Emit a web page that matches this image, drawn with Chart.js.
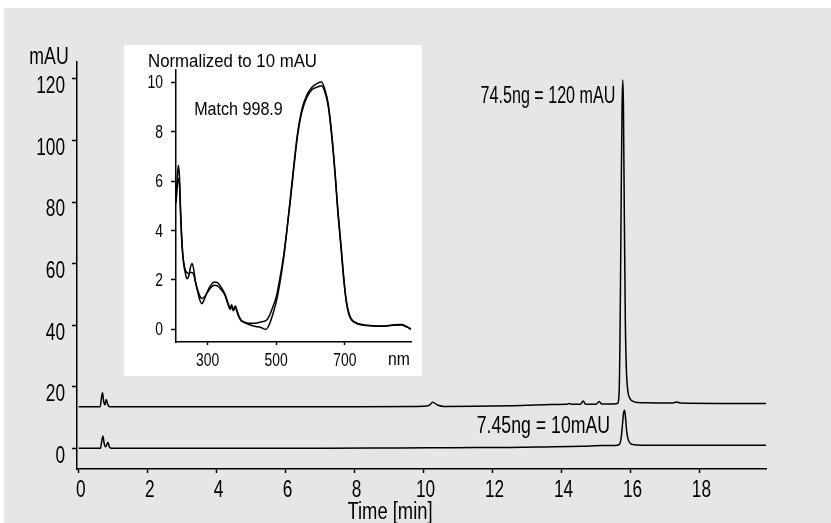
<!DOCTYPE html>
<html>
<head>
<meta charset="utf-8">
<script src="https://cdn.jsdelivr.net/npm/chart.js@4.4.1/dist/chart.umd.min.js"></script>
<style>
  html, body { margin: 0; padding: 0; background: #fff; }
  #frame { position: absolute; left: 4px; top: 8px; width: 827px; height: 515px; background: #e6e6e6; }
  #main { position: absolute; left: 0; top: 0; }
  #insetBox { position: absolute; left: 124px; top: 45px; width: 298px; height: 331px; background: #fff; }
</style>
</head>
<body>
<div id="frame"></div>
<div id="main"><canvas id="mainChart" width="831" height="523"></canvas></div>
<div id="insetBox"><canvas id="insetChart" width="298" height="331"></canvas></div>
<script>
// chromatogram, upper trace (74.5 ng)
var timeTop = [0, 0.62, 0.66, 0.69, 0.72, 0.76, 0.80, 0.84, 0.88, 0.93, 2.5, 4.8, 6.5, 8.0, 9.8,
    10.15, 10.27, 10.4, 10.6, 11.5, 12.6, 13.0, 13.7, 14.15, 14.22, 14.3, 14.55, 14.63, 14.7,
    15.0, 15.09, 15.17, 15.45, 15.62, 15.67, 15.70, 15.73, 15.755, 15.775, 15.795, 15.82, 15.85,
    15.88, 15.92, 15.97, 16.05, 16.2, 16.5, 17.2, 17.35, 17.45, 18.5, 19.93];
var signalTop = [13.5, 13.5, 16.5, 18.1, 15.5, 14.1, 15.9, 14.3, 13.6, 13.5, 13.5, 13.5, 13.55, 13.55, 13.6,
    13.9, 14.95, 14.1, 13.6, 13.65, 13.85, 14.0, 14.25, 14.3, 14.6, 14.3, 14.3, 15.4, 14.35,
    14.35, 15.2, 14.4, 14.4, 14.6, 18, 40, 80, 110, 119.7, 112, 78, 42,
    26, 19, 16.5, 15.4, 14.9, 14.8, 14.7, 15.1, 14.7, 14.6, 14.6];

// chromatogram, lower trace (7.45 ng)
var timeBottom = [0, 0.63, 0.67, 0.70, 0.74, 0.78, 0.82, 0.85, 0.89, 0.95, 2.3, 4.5, 6.5, 8.5, 10.1,
    11.5, 12.5, 13.5, 14.6, 15.2, 15.55, 15.68, 15.73, 15.77, 15.80, 15.83, 15.86, 15.89, 15.93, 15.98,
    16.05, 16.2, 16.75, 18.5, 19.93];
var signalBottom = [0, 0, 2.5, 4.0, 1.5, 0.5, 1.4, 2.0, 0.4, 0.05, 0, 0, 0.05, 0.1, 0.2,
    0.25, 0.3, 0.45, 0.65, 0.9, 0.95, 1.3, 3.5, 8, 11.5, 12.4, 9.5, 5.5, 3, 1.8,
    1.3, 1.1, 1.0, 1.0, 1.0];

var timeTicks = [0, 2, 4, 6, 8, 10, 12, 14, 16, 18];
var mauTicks = [0, 20, 40, 60, 80, 100, 120];

// inset: UV/Vis spectra normalized to 10 mAU
var wavelength = [208, 212, 215, 218, 222, 226, 230, 235, 240, 245, 250, 255, 260, 265, 270, 276, 283, 290,
    300, 310, 320, 330, 340, 350, 360, 366, 370, 375, 381, 386, 391, 398, 406, 420, 440, 455, 470,
    480, 490, 500, 510, 522, 532, 542, 552, 562, 575, 590, 605, 620, 632, 642, 652, 662, 672, 680,
    689, 697, 704, 712, 720, 735, 750, 780, 810, 840, 865, 880, 893];
var spectrumA = [5.3, 6.2, 6.64, 6.2, 4.6, 3.4, 2.7, 2.3, 2.05, 2.15, 2.5, 2.66, 2.4, 1.9, 1.6, 1.25, 1.04, 1.2,
    1.55, 1.8, 1.92, 1.88, 1.7, 1.45, 1.05, 0.85, 1.0, 0.8, 0.95, 0.75, 0.55, 0.38, 0.28, 0.2, 0.12, 0.08, 0.0,
    0.2, 0.6, 1.1, 1.8, 2.9, 4.1, 5.4, 6.7, 7.9, 8.9, 9.5, 9.8, 9.95, 10.0, 9.7, 9.1, 7.9, 6.3, 4.8,
    3.4, 2.1, 1.2, 0.65, 0.4, 0.25, 0.2, 0.15, 0.14, 0.18, 0.2, 0.12, 0.02];
var spectrumB = [5.1, 5.8, 6.1, 5.9, 4.4, 3.3, 2.75, 2.4, 2.3, 2.25, 2.3, 2.3, 2.2, 1.9, 1.65, 1.4, 1.25, 1.3,
    1.5, 1.7, 1.78, 1.75, 1.6, 1.4, 1.0, 0.8, 0.95, 0.75, 0.9, 0.7, 0.5, 0.35, 0.3, 0.25, 0.25, 0.3, 0.35,
    0.55, 0.9, 1.3, 2.0, 3.0, 4.1, 5.3, 6.6, 7.8, 8.8, 9.4, 9.7, 9.8, 9.85, 9.6, 9.0, 7.8, 6.2, 4.7,
    3.3, 2.0, 1.15, 0.6, 0.38, 0.24, 0.18, 0.14, 0.13, 0.17, 0.18, 0.1, 0.0];
var nmTicks = [300, 500, 700];
var normTicks = [0, 2, 4, 6, 8, 10];

var FONT = '"Liberation Sans", Arial, sans-serif';
var INK = '#000';

function toPoints(xs, ys) {
    return xs.map(function (x, i) { return { x: x, y: ys[i] }; });
}

function lineSet(xs, ys) {
    return {
        data: toPoints(xs, ys),
        borderColor: INK,
        borderWidth: 1.5,
        pointRadius: 0,
        fill: false,
        cubicInterpolationMode: 'monotone'
    };
}

// axis styled like the printed figure: black line, short outside ticks, no grid
function axis(min, max, tickList, fit, size, extra) {
    var opts = {
        type: 'linear',
        min: min,
        max: max,
        afterBuildTicks: function (scale) {
            scale.ticks = tickList.map(function (v) { return { value: v }; });
        },
        afterFit: fit,
        grid: { drawOnChartArea: false, drawTicks: true, tickLength: 5, tickColor: INK, tickWidth: 1.5 },
        border: { display: true, color: INK, width: 1.5 },
        ticks: { color: INK, autoSkip: false, maxRotation: 0, font: { family: FONT, size: size } }
    };
    Object.assign(opts.ticks, extra.ticks || {});
    Object.assign(opts.grid, extra.grid || {});
    return opts;
}

// The printed figure uses a condensed face. While the chart draws, every
// fillText is squeezed horizontally round its own anchor; afterwards the
// free labels are drawn (data units x/y or canvas pixels px/py).
var textPlugin = {
    id: 'textLabels',
    beforeDraw: function (chart, args, opts) {
        var ctx = chart.ctx;
        var sx = opts.tickSx || 1;
        var orig = CanvasRenderingContext2D.prototype.fillText;
        ctx.fillText = function (text, x, y) {
            this.save();
            this.translate(x, y);
            this.scale(sx, 1);
            orig.call(this, text, 0, 0);
            this.restore();
        };
    },
    afterDraw: function (chart, args, opts) {
        var ctx = chart.ctx;
        delete ctx.fillText;
        (opts.items || []).forEach(function (it) {
            var px = it.px != null ? it.px : chart.scales.x.getPixelForValue(it.x);
            var py = it.py != null ? it.py : chart.scales.y.getPixelForValue(it.y);
            ctx.save();
            ctx.font = it.size + 'px ' + FONT;
            ctx.fillStyle = INK;
            ctx.textAlign = it.align || 'left';
            ctx.textBaseline = 'middle';
            ctx.translate(px, py);
            ctx.scale(it.sx || 1, 1);
            ctx.fillText(it.text, 0, 0);
            ctx.restore();
        });
    }
};

new Chart(document.getElementById('mainChart'), {
    type: 'line',
    data: { datasets: [lineSet(timeTop, signalTop), lineSet(timeBottom, signalBottom)] },
    options: {
        responsive: false,
        animation: false,
        layout: { padding: { top: 62, right: 65, left: 0, bottom: 0 } },
        scales: {
            x: axis(-0.05, 19.93, timeTicks, function (s) { s.height = 54; }, 23,
                { ticks: { padding: 4, labelOffset: 2 }, grid: { tickLength: 4 } }),
            y: axis(-6.7, 125.5, mauTicks, function (s) { s.width = 77; }, 23,
                { ticks: { padding: 7, labelOffset: 8 } })
        },
        plugins: {
            legend: { display: false },
            tooltip: { enabled: false },
            textLabels: {
                tickSx: 0.75,
                items: [
                    { text: 'mAU', px: 49, py: 58, align: 'center', size: 23, sx: 0.77 },
                    { text: 'Time [min]', px: 390, py: 513, align: 'center', size: 23, sx: 0.8 },
                    { text: '74.5ng = 120 mAU', x: 15.56, y: 114.2, align: 'right', size: 23, sx: 0.7 },
                    { text: '7.45ng = 10mAU', x: 15.41, y: 6.9, align: 'right', size: 23, sx: 0.77 }
                ]
            }
        }
    },
    plugins: [textPlugin]
});

new Chart(document.getElementById('insetChart'), {
    type: 'line',
    data: { datasets: [lineSet(wavelength, spectrumA), lineSet(wavelength, spectrumB)] },
    options: {
        responsive: false,
        animation: false,
        layout: { padding: { top: 25, right: 11, left: 0, bottom: 0 } },
        scales: {
            x: axis(208, 893, nmTicks, function (s) { s.height = 34; }, 18.5,
                { ticks: { padding: 5 }, grid: { tickLength: 3 } }),
            y: axis(-0.51, 10.49, normTicks, function (s) { s.width = 52; }, 18.5,
                { ticks: { padding: 8, labelOffset: 1 } })
        },
        plugins: {
            legend: { display: false },
            tooltip: { enabled: false },
            textLabels: {
                tickSx: 0.75,
                items: [
                    { text: 'Normalized to 10 mAU', px: 24, py: 17, size: 17.5, sx: 0.96 },
                    { text: 'Match 998.9', x: 261, y: 8.87, size: 18.5, sx: 0.87 },
                    { text: 'nm', x: 858, py: 315, align: 'center', size: 18.5, sx: 0.85 }
                ]
            }
        }
    },
    plugins: [textPlugin]
});
</script>
</body>
</html>
